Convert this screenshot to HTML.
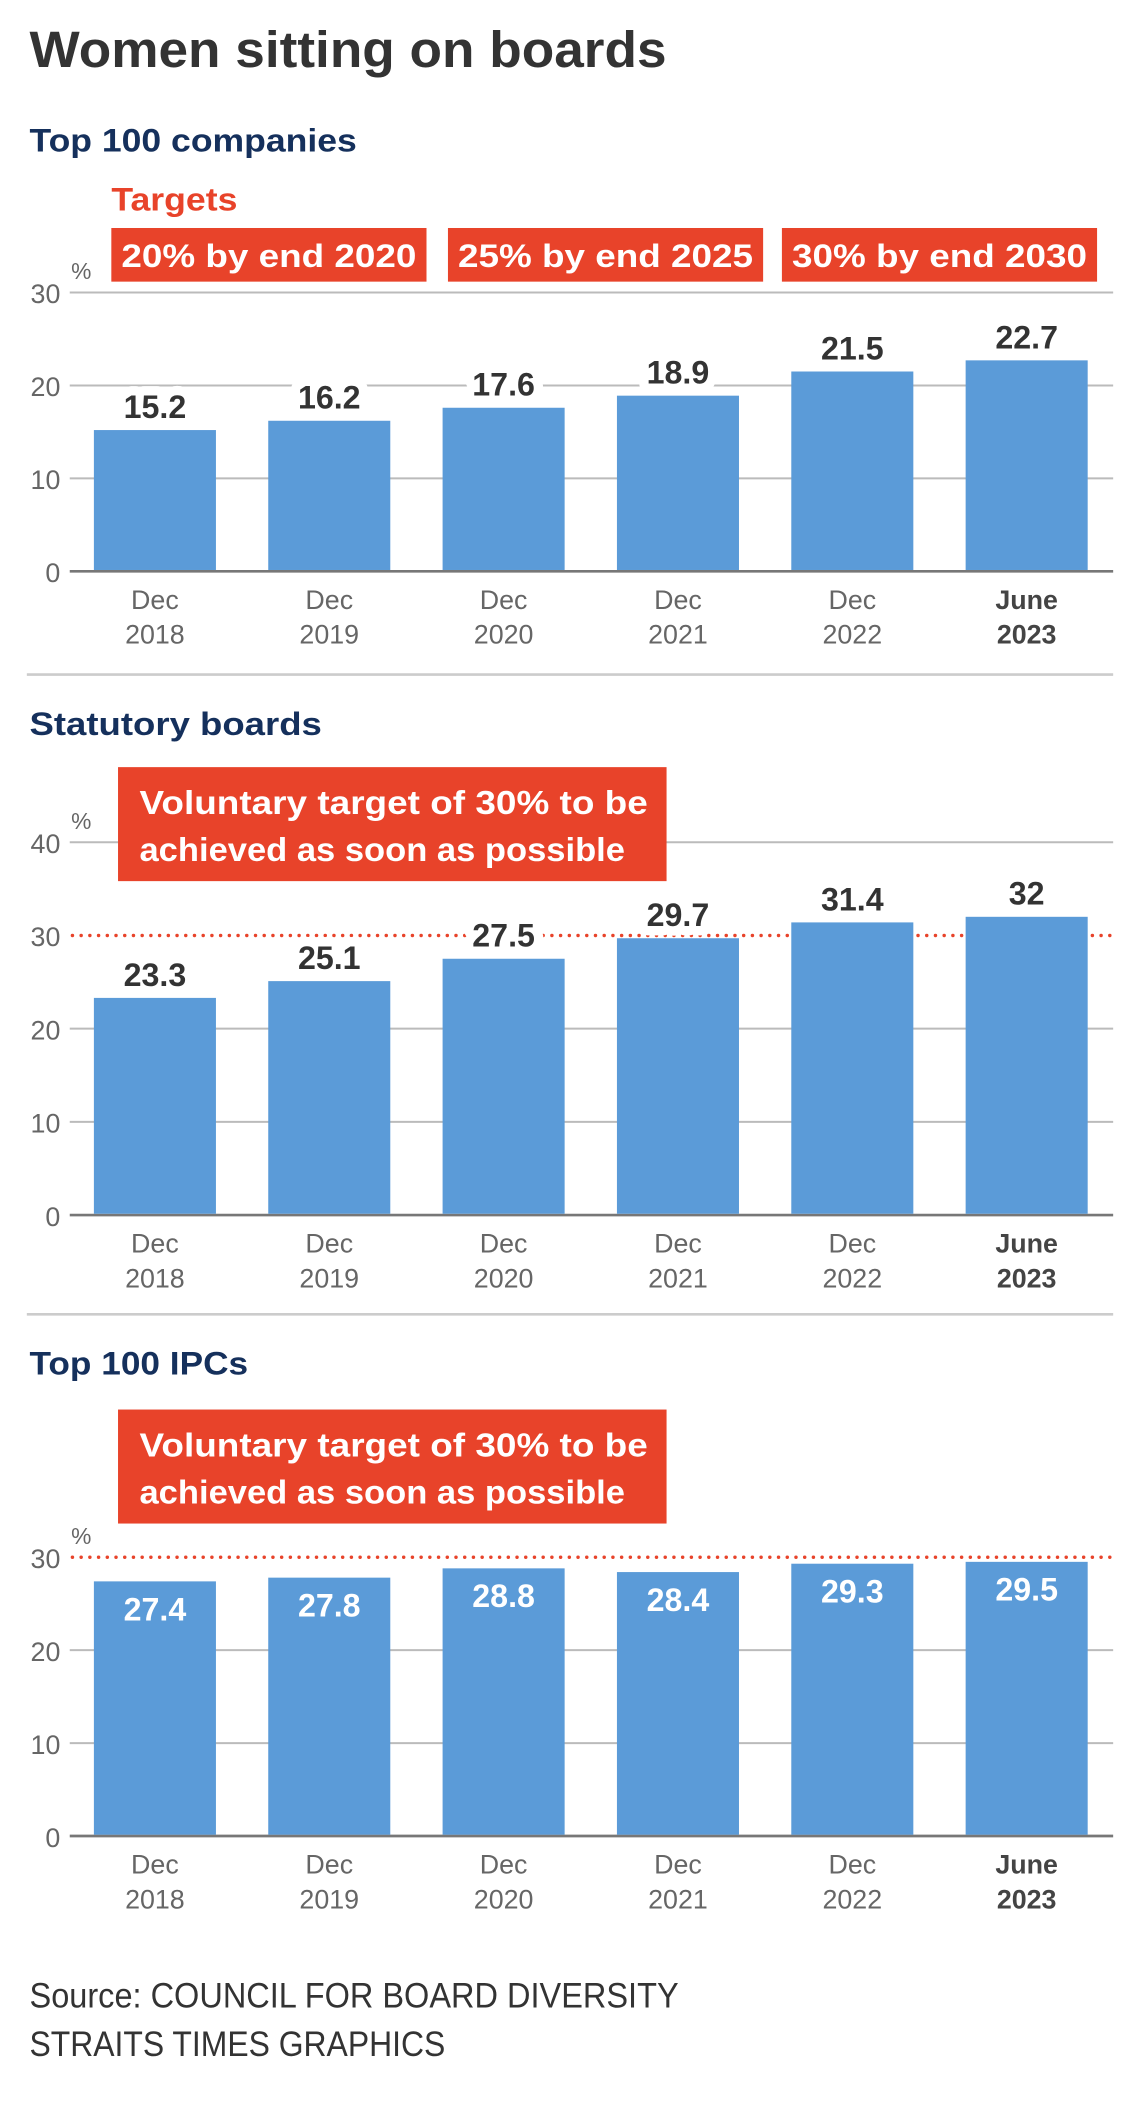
<!DOCTYPE html>
<html><head><meta charset="utf-8"><style>
html,body{margin:0;padding:0;background:#fff;}
svg{display:block;font-family:"Liberation Sans",sans-serif;}
</style></head><body>
<svg id="chart" width="1140" height="2106" viewBox="0 0 850 1570.3" xmlns="http://www.w3.org/2000/svg">
<rect x="0" y="0" width="850" height="1571" fill="#fff"/>
<text x="22" y="50" font-size="38" font-weight="bold" fill="#333" textLength="475" lengthAdjust="spacingAndGlyphs">Women sitting on boards</text>
<g id="g1"></g><g id="g2"></g><g id="g3"></g>
<text x="22" y="1497" font-size="26" fill="#333" textLength="484" lengthAdjust="spacingAndGlyphs">Source: COUNCIL FOR BOARD DIVERSITY</text>
<text x="22" y="1533" font-size="26" fill="#333" textLength="310" lengthAdjust="spacingAndGlyphs">STRAITS TIMES GRAPHICS</text>
</svg>
<script>
const categoriesTop = ["Dec", "Dec", "Dec", "Dec", "Dec", "June"];
const categoriesBottom = ["2018", "2019", "2020", "2021", "2022", "2023"];
const top100Values = [15.2, 16.2, 17.6, 18.9, 21.5, 22.7];
const statutoryValues = [23.3, 25.1, 27.5, 29.7, 31.4, 32];
const ipcValues = [27.4, 27.8, 28.8, 28.4, 29.3, 29.5];
const ticks1 = [0, 10, 20, 30];
const ticks2 = [0, 10, 20, 30, 40];
const ticks3 = [0, 10, 20, 30];
const targetLabels = ["20% by end 2020", "25% by end 2025", "30% by end 2030"];

const NS = "http://www.w3.org/2000/svg";
function mk(parent, tag, attrs, text){
  const e = document.createElementNS(NS, tag);
  for (const k in attrs) e.setAttribute(k, attrs[k]);
  if (text !== undefined) e.textContent = text;
  parent.appendChild(e);
  return e;
}
const BLUE = "#5b9bd8", RED = "#e8432a";

function drawChart(g, cfg){
  const y = v => cfg.y0 - v * cfg.per10 / 10;
  const x = i => 70 + i * 130;
  // gridlines & ticks
  cfg.ticks.forEach(t => {
    if (t === cfg.target) return;
    const l = mk(g, "line", {x1:52, x2:830, y1:y(t), y2:y(t), stroke: t===0 ? "#777" : "#bbb", "stroke-width": t===0 ? 2 : 1.5});
    
    
  });
  cfg.ticks.forEach(t => {
    const tx = mk(g, "text", {x:45, y:y(t)+8, "text-anchor":"end", "font-size":20, fill:"#666"}, String(t));
    
    
  });
  const topTick = cfg.ticks[cfg.ticks.length-1];
  const pc = mk(g, "text", {x:53, y:y(topTick)-10, "font-size":17, fill:"#666"}, "%");
  
  
  if (cfg.target !== undefined){
    const d = mk(g, "line", {x1:54, x2:830, y1:y(cfg.target), y2:y(cfg.target), stroke:RED, "stroke-width":2.6, "stroke-dasharray":"0 6.5", "stroke-linecap":"round"});
    
    
  }
  cfg.values.forEach((v, i) => {
    const r = mk(g, "rect", {x:x(i), y:y(v), width:91, height:y(0)-y(v)-1, fill:BLUE});
    
    
    let lbl;
    if (cfg.inside){
      lbl = mk(g, "text", {x:x(i)+45.5, y:y(v)+29, "text-anchor":"middle", "font-size":24, "font-weight":"bold", fill:"#fff"}, String(v));
    } else {
      lbl = mk(g, "text", {x:x(i)+45.5, y:y(v)-9, "text-anchor":"middle", "font-size":24, "font-weight":"bold", fill:"#333", stroke:"#fff", "stroke-width":14, "paint-order":"stroke", "stroke-linejoin":"round"}, String(v));
    }
    
    
    const last = i === cfg.values.length-1;
    const a = mk(g, "text", {x:x(i)+45.5, y:y(0)+28, "text-anchor":"middle", "font-size":20, fill: last?"#444":"#666", "font-weight": last?"bold":"normal"}, categoriesTop[i]);
    
    
    const b = mk(g, "text", {x:x(i)+45.5, y:y(0)+54, "text-anchor":"middle", "font-size":20, fill: last?"#444":"#666", "font-weight": last?"bold":"normal"}, categoriesBottom[i]);
    
    
  });
}
function subtitle(g, text, yb, w){
  const t = mk(g, "text", {x:22, y:yb, "font-size":24, "font-weight":"bold", fill:"#15305c", textLength:w, lengthAdjust:"spacingAndGlyphs"}, text);
  
  
}
function sep(g, yy){
  const l = mk(g, "line", {x1:20, x2:830, y1:yy, y2:yy, stroke:"#ccc", "stroke-width":2});
  
  
}
function voluntaryBox(g, top){
  const r = mk(g, "rect", {x:88, y:top, width:409, height:85, fill:RED});
  
  
  const t1 = mk(g, "text", {x:104, y:top+35, "font-size":25, "font-weight":"bold", fill:"#fff", textLength:379, lengthAdjust:"spacingAndGlyphs"}, "Voluntary target of 30% to be");
  
  
  const t2 = mk(g, "text", {x:104, y:top+70, "font-size":25, "font-weight":"bold", fill:"#fff", textLength:362, lengthAdjust:"spacingAndGlyphs"}, "achieved as soon as possible");
  
  
}

// Chart 1
const g1 = document.getElementById("g1");
subtitle(g1, "Top 100 companies", 113, 244);
drawChart(g1, {y0:426, per10:69.3, ticks:ticks1, values:top100Values, inside:false});
const tg = mk(g1, "text", {x:83, y:157, "font-size":24, "font-weight":"bold", fill:RED, textLength:94, lengthAdjust:"spacingAndGlyphs"}, "Targets");


const boxX = [83, 334, 583];
targetLabels.forEach((s, i) => {
  const r = mk(g1, "rect", {x:boxX[i], y:170, width:235, height:40, fill:RED});
  
  
  const t = mk(g1, "text", {x:boxX[i]+117.5, y:199, "text-anchor":"middle", "font-size":24, "font-weight":"bold", fill:"#fff", textLength:220, lengthAdjust:"spacingAndGlyphs"}, s);
  
  
});
sep(g1, 503);

// Chart 2
const g2 = document.getElementById("g2");
subtitle(g2, "Statutory boards", 548, 218);
drawChart(g2, {y0:906, per10:69.5, ticks:ticks2, values:statutoryValues, inside:false, target:30});
voluntaryBox(g2, 572);
sep(g2, 980);

// Chart 3
const g3 = document.getElementById("g3");
subtitle(g3, "Top 100 IPCs", 1025, 163);
voluntaryBox(g3, 1051);
drawChart(g3, {y0:1369, per10:69.3, ticks:ticks3, values:ipcValues, inside:true, target:30});
</script>
</body></html>
